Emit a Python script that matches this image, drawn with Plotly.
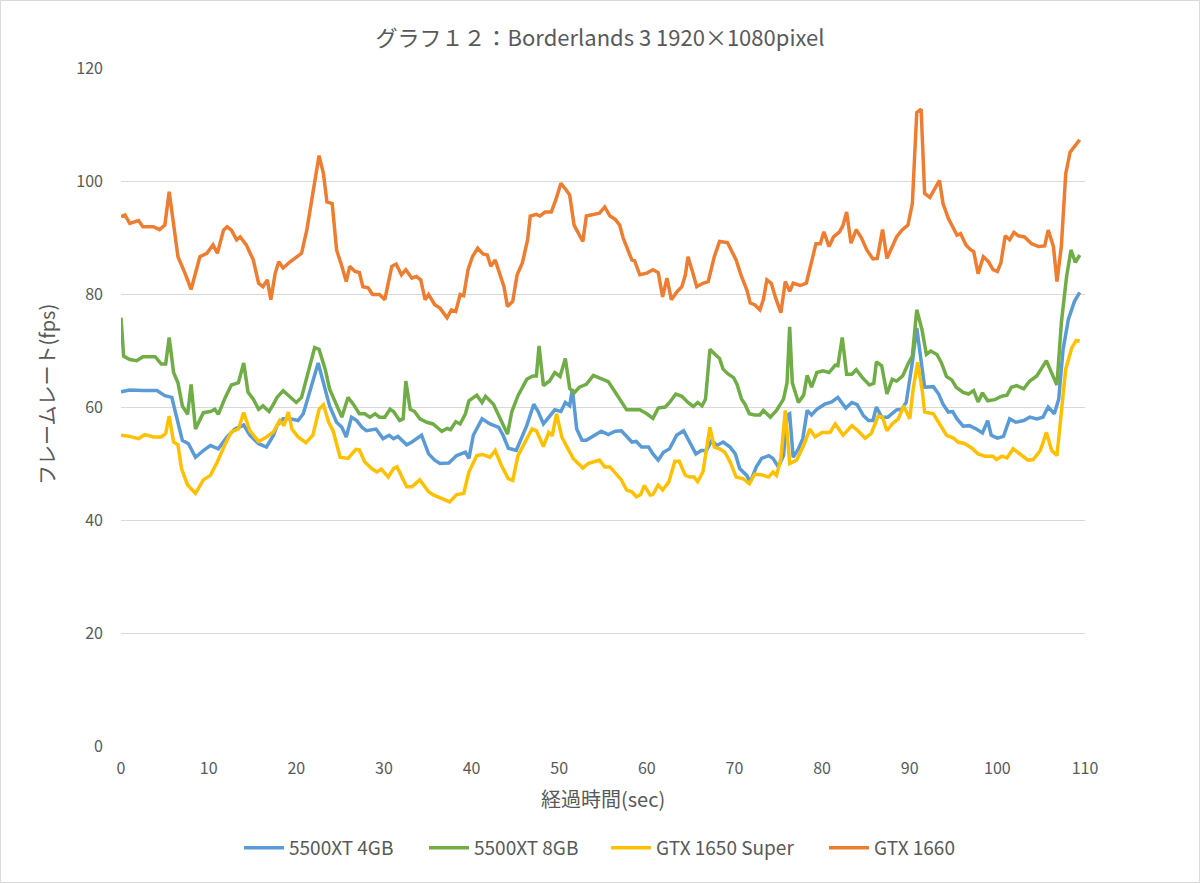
import plotly.graph_objects as go

# ---- data ----
t_4gb = [0, 1.0, 2.5, 4.1, 5.0, 5.8, 6.3, 7.0, 7.7, 8.5, 9.4, 10.2, 11.1, 12.1, 13.0, 14.0, 14.7, 15.7, 16.6, 17.4,
         17.8, 18.5, 19.3, 20.2, 20.8, 21.6, 22.5, 23.1, 23.8, 24.6, 25.2, 25.7, 26.3, 26.9, 27.5, 28.0, 29.1, 29.9,
         30.6, 31.1, 31.6, 32.6, 33.2, 34.3, 35.1, 35.8, 36.4, 37.4, 38.3, 39.3, 39.7, 40.2, 41.2, 42.1, 43.1, 43.6,
         44.2, 45.1, 46.3, 47.1, 47.6, 48.2, 48.8, 49.5, 50.2, 50.7, 51.2, 51.5, 52.0, 52.6, 53.1, 53.8, 54.1, 54.8,
         55.6, 56.4, 57.1, 57.7, 58.3, 58.8, 59.4, 60.2, 60.7, 61.3, 61.9, 62.6, 63.4, 64.2, 64.9, 65.6, 66.2, 66.8,
         67.4, 68.0, 68.7, 69.5, 70.1, 70.6, 71.4, 71.8, 72.5, 73.1, 73.9, 74.4, 75.0, 75.6, 76.0, 76.3, 76.7, 77.3,
         77.8, 78.3, 78.8, 79.4, 80.3, 81.1, 81.8, 82.7, 83.4, 84.0, 84.7, 85.3, 85.8, 86.2, 86.8, 87.5, 88.5, 89.1,
         89.6, 90.3, 90.8, 91.2, 91.7, 92.7, 93.3, 93.8, 94.4, 94.9, 95.4, 96.1, 96.8, 97.6, 98.3, 98.9, 99.3, 100.0,
         100.7, 101.4, 102.1, 103.0, 103.7, 104.5, 105.2, 105.8, 106.5, 107.0, 107.5, 108.1, 108.8, 109.4]
v_4gb = [62.7, 63.0, 62.9, 62.9, 62.0, 61.7, 58.5, 54.1, 53.5, 51.1, 52.3, 53.2, 52.6, 54.7, 56.1, 56.8, 55.0, 53.5, 52.9, 55.0,
         56.7, 57.9, 57.9, 57.6, 58.8, 62.9, 67.8, 64.3, 60.2, 57.3, 56.4, 54.7, 58.2, 57.6, 56.4, 55.8, 56.1, 54.4,
         55.0, 54.4, 54.8, 53.3, 53.8, 55.0, 51.7, 50.6, 50.0, 50.1, 51.4, 52.0, 50.9, 55.0, 57.9, 57.0, 56.4, 55.0,
         52.7, 52.3, 56.7, 60.5, 59.2, 57.0, 58.2, 59.5, 59.2, 60.8, 60.2, 63.2, 56.1, 54.1, 54.1, 54.7, 55.0, 55.7,
         55.1, 55.7, 55.8, 54.7, 53.8, 53.9, 52.9, 52.9, 51.7, 50.6, 52.0, 52.6, 55.0, 55.8, 53.8, 51.7, 52.3, 52.3,
         54.1, 53.2, 53.8, 52.9, 51.7, 49.1, 47.9, 46.7, 49.4, 50.9, 51.4, 50.9, 49.4, 51.4, 58.5, 58.8, 51.1, 52.6,
         54.4, 59.4, 58.6, 59.6, 60.5, 60.9, 61.7, 59.8, 60.8, 60.4, 58.5, 57.6, 57.6, 60.0, 58.2, 58.2, 59.5, 59.6,
         60.8, 67.9, 74.0, 69.0, 63.5, 63.6, 62.3, 60.5, 59.1, 59.2, 57.9, 56.6, 56.7, 56.1, 55.4, 57.6, 55.0, 54.5,
         54.8, 57.9, 57.3, 57.6, 58.2, 57.9, 58.2, 60.0, 58.8, 61.4, 70.2, 75.5, 78.7, 80.3]

t_8gb = [0, 0.3, 1.0, 1.8, 2.5, 3.9, 4.6, 5.1, 5.5, 6.0, 6.5, 7.0, 7.6, 8.0, 8.5, 9.4, 10.2, 10.7, 11.1, 11.9, 12.6,
         13.4, 14.0, 14.5, 15.1, 15.7, 16.2, 16.9, 17.4, 17.8, 18.5, 19.3, 20.0, 20.6, 21.4, 22.1, 22.6, 23.3, 23.8,
         24.6, 25.2, 25.9, 26.5, 27.2, 27.8, 28.4, 29.0, 29.5, 30.1, 30.7, 31.1, 31.8, 32.2, 32.5, 33.0, 33.5, 34.1,
         34.9, 35.6, 36.0, 36.6, 37.2, 37.6, 38.2, 38.7, 39.3, 39.7, 40.6, 41.2, 41.6, 42.5, 43.2, 44.1, 44.6, 45.3,
         46.3, 47.0, 47.4, 47.7, 48.2, 48.9, 49.5, 50.1, 50.7, 51.2, 51.7, 52.3, 53.1, 53.9, 54.5, 55.6, 56.4, 57.1,
         57.7, 59.2, 60.0, 60.7, 61.3, 62.1, 62.6, 63.3, 64.0, 64.7, 65.3, 65.8, 66.3, 66.7, 67.2, 67.8, 68.3, 68.7,
         69.3, 69.9, 70.3, 70.8, 71.2, 71.7, 72.3, 72.9, 73.3, 74.1, 74.8, 75.6, 76.0, 76.3, 76.6, 77.3, 77.9, 78.3,
         78.8, 79.4, 80.1, 80.8, 81.5, 81.8, 82.3, 82.8, 83.4, 83.9, 84.6, 85.4, 85.9, 86.2, 86.8, 87.4, 88.0, 88.5,
         89.2, 89.8, 90.3, 90.8, 91.4, 91.9, 92.4, 93.1, 93.6, 94.2, 94.8, 95.3, 96.1, 96.7, 97.3, 97.8, 98.3, 98.9,
         99.7, 100.5, 101.1, 101.6, 102.2, 103.0, 103.7, 104.5, 105.0, 105.6, 106.2, 106.8, 107.3, 107.9, 108.4,
         108.9, 109.4]
v_8gb = [75.8, 69.0, 68.4, 68.2, 68.9, 68.9, 67.6, 67.6, 72.3, 66.1, 64.3, 60.2, 58.7, 64.0, 56.1, 59.0, 59.2, 59.6, 58.7, 61.7, 63.9,
         64.3, 67.8, 62.6, 61.4, 59.6, 60.2, 59.2, 60.5, 61.7, 62.9, 61.7, 60.8, 61.7, 66.1, 70.5, 70.2, 66.7, 63.2,
         60.2, 58.2, 61.7, 60.5, 58.8, 58.8, 58.2, 58.8, 58.2, 58.2, 59.6, 59.2, 57.6, 57.9, 64.6, 59.6, 59.2, 57.9,
         57.3, 57.0, 56.5, 55.7, 56.2, 56.0, 57.4, 57.0, 58.8, 61.1, 62.1, 60.8, 61.9, 60.5, 58.2, 55.2, 59.2, 62.0,
         64.9, 65.5, 65.5, 70.8, 63.8, 64.6, 66.1, 65.4, 68.6, 63.3, 62.5, 63.5, 64.0, 65.6, 65.2, 64.5, 62.6, 60.8,
         59.5, 59.5, 58.8, 58.0, 59.8, 60.0, 60.8, 62.3, 61.9, 60.8, 60.1, 60.8, 60.2, 61.4, 70.2, 69.3, 68.6, 66.7,
         65.8, 65.2, 64.0, 61.4, 60.5, 58.8, 58.6, 58.6, 59.4, 58.2, 59.4, 61.4, 64.3, 74.2, 64.3, 60.8, 62.1, 65.6,
         63.5, 66.1, 66.4, 66.1, 67.4, 67.3, 72.3, 65.8, 65.8, 66.6, 65.2, 63.9, 64.2, 68.0, 67.3, 62.3, 64.9, 64.6,
         65.5, 67.6, 69.0, 77.2, 73.7, 69.3, 69.9, 69.3, 67.9, 65.4, 64.8, 63.5, 62.6, 62.3, 62.9, 60.9, 62.5, 61.1,
         61.3, 61.9, 62.1, 63.5, 63.8, 63.2, 64.6, 65.5, 66.7, 68.2, 66.0, 63.9, 74.9, 83.1, 87.8,
         85.6, 86.9]

t_1650s = [0, 1.0, 2.0, 2.7, 3.7, 4.6, 5.1, 5.5, 6.0, 6.5, 6.9, 7.6, 8.5, 9.4, 10.2, 11.0, 11.9, 12.6, 13.4, 14.0,
           14.7, 15.7, 16.6, 17.4, 18.1, 18.6, 19.1, 19.5, 20.2, 21.1, 21.9, 22.6, 23.1, 23.7, 24.2, 25.0, 25.9, 26.8,
           27.2, 27.8, 28.6, 29.2, 29.7, 30.5, 31.1, 31.5, 32.6, 33.2, 34.1, 35.1, 35.7, 36.4, 37.5, 38.3, 39.1, 39.7,
           40.6, 41.3, 42.1, 42.7, 43.4, 44.2, 44.7, 45.3, 46.1, 46.9, 47.4, 48.2, 48.8, 49.2, 49.7, 50.3, 50.9, 51.6,
           52.7, 53.3, 54.6, 55.2, 55.8, 56.5, 57.1, 57.7, 58.3, 58.8, 59.3, 59.7, 60.4, 60.7, 61.3, 61.8, 62.5, 63.2,
           63.7, 64.4, 64.9, 65.4, 65.8, 66.4, 66.8, 67.2, 67.7, 68.3, 68.9, 69.5, 70.2, 71.0, 71.7, 72.3, 73.1, 73.9,
           74.4, 74.8, 75.3, 75.8, 76.3, 77.1, 77.9, 78.6, 79.2, 80.0, 80.9, 81.5, 82.4, 83.4, 84.1, 84.9, 85.6, 86.4,
           86.9, 87.4, 88.0, 88.7, 89.3, 90.0, 90.4, 90.9, 91.4, 91.7, 92.7, 93.4, 94.2, 95.0, 95.5, 96.3, 97.1, 97.8,
           98.6, 99.5, 99.9, 100.5, 101.1, 101.8, 102.6, 103.5, 104.1, 104.9, 105.6, 106.2, 106.8, 107.3, 107.8,
           108.5, 109.0, 109.4]
v_1650s = [55.0, 54.8, 54.4, 55.1, 54.7, 54.7, 55.3, 58.4, 53.8, 53.3, 49.1, 46.2, 44.7, 47.1, 47.9, 50.3, 53.5, 55.6, 56.1, 59.0,
           55.8, 53.9, 54.7, 55.6, 57.6, 56.7, 59.1, 56.1, 54.7, 53.7, 55.0, 59.6, 60.4, 57.3, 55.8, 51.1, 50.9, 52.5,
           52.4, 50.3, 49.1, 48.5, 49.0, 47.6, 49.1, 49.4, 45.9, 45.9, 47.1, 45.0, 44.4, 43.9, 43.2, 44.5, 44.7, 48.5,
           51.4, 51.6, 51.1, 52.3, 49.7, 47.3, 47.0, 51.4, 53.8, 56.1, 55.8, 53.0, 55.5, 54.9, 58.8, 54.7, 52.9, 50.9,
           49.2, 50.0, 50.6, 49.4, 49.4, 48.2, 47.1, 45.3, 45.0, 44.1, 44.5, 46.1, 44.4, 44.5, 46.2, 45.3, 46.7, 50.4,
           50.4, 47.9, 47.6, 47.6, 46.8, 48.5, 52.3, 56.4, 52.9, 52.6, 52.0, 50.3, 47.6, 47.3, 46.4, 48.1, 48.0, 47.6,
           48.5, 47.9, 50.9, 59.4, 50.0, 50.6, 53.2, 56.1, 54.7, 55.5, 55.5, 57.0, 55.0, 56.7, 55.8, 54.5, 55.3, 58.4,
           58.2, 55.8, 57.0, 57.9, 60.2, 57.9, 63.2, 67.9, 63.2, 59.1, 58.8, 57.0, 55.0, 54.5, 53.8, 53.5, 52.7, 51.7,
           51.3, 51.3, 50.7, 51.3, 51.0, 52.6, 51.6, 50.6, 50.7, 52.3, 55.5, 52.3, 51.4, 59.6, 66.7,
           70.5, 71.8, 71.7]

t_1660 = [0, 0.45, 1.0, 2.0, 2.5, 3.7, 4.4, 5.0, 5.5, 6.0, 6.5, 7.3, 8.0, 9.0, 9.8, 10.5, 11.0, 11.7, 12.1, 12.6,
          13.2, 13.6, 14.3, 15.1, 15.7, 16.2, 16.7, 17.1, 17.6, 18.0, 18.5, 19.3, 20.6, 21.2, 21.9, 22.6, 23.1, 23.5,
          24.1, 24.6, 25.2, 25.7, 26.1, 26.7, 27.2, 27.6, 28.2, 28.7, 29.5, 30.1, 30.9, 31.4, 32.0, 32.5, 33.2, 33.7,
          34.2, 34.7, 35.1, 35.8, 36.4, 37.2, 37.7, 38.2, 38.7, 39.1, 39.6, 40.1, 40.7, 41.3, 41.8, 42.2, 42.7, 43.2,
          43.7, 44.1, 44.7, 45.2, 45.8, 46.4, 46.7, 47.4, 47.8, 48.4, 49.1, 49.6, 50.2, 50.8, 51.2, 51.7, 52.2, 52.7,
          53.1, 53.9, 54.6, 55.2, 55.8, 56.4, 56.9, 57.3, 57.7, 58.3, 58.6, 59.2, 60.0, 60.7, 61.3, 61.8, 62.3, 62.8,
          63.5, 64.0, 64.4, 64.7, 65.2, 65.7, 66.4, 67.0, 67.7, 68.3, 69.2, 69.7, 70.2, 70.8, 71.4, 71.8, 72.3, 72.9,
          73.3, 73.7, 74.2, 74.7, 75.3, 75.8, 76.3, 76.7, 77.5, 78.2, 78.8, 79.3, 79.8, 80.2, 80.8, 81.3, 82.0, 82.4,
          82.8, 83.3, 83.9, 84.5, 85.1, 85.8, 86.3, 86.9, 87.4, 88.0, 88.5, 89.1, 89.8, 90.3, 90.8, 91.3, 91.7, 92.3,
          92.9, 93.4, 93.8, 94.4, 94.9, 95.4, 95.8, 96.4, 96.9, 97.3, 97.8, 98.4, 99.0, 99.5, 100.0, 100.4, 100.9,
          101.4, 101.9, 102.4, 103.1, 103.9, 104.7, 105.4, 105.8, 106.4, 106.8, 107.3, 107.8, 108.3, 108.9, 109.4]
v_1660 = [93.7, 94.0, 92.5, 93.0, 91.9, 91.9, 91.4, 92.2, 98.1, 91.9, 86.6, 83.7, 80.8, 86.6, 87.2, 88.7, 87.2, 91.3, 91.9, 91.3,
          89.6, 90.1, 88.7, 86.0, 81.9, 81.3, 82.5, 79.0, 83.7, 85.7, 84.6, 85.7, 87.2, 91.3, 98.4, 104.5, 101.3, 96.3,
          96.0, 87.8, 84.9, 82.2, 84.9, 84.0, 83.8, 81.3, 81.1, 79.9, 79.9, 79.0, 84.9, 85.3, 83.4, 84.3, 82.8, 83.1,
          82.5, 79.0, 79.9, 78.1, 77.5, 75.8, 77.2, 76.9, 79.9, 79.7, 84.3, 86.6, 88.1, 87.1, 86.9, 84.9, 86.0, 83.4,
          81.3, 77.8, 78.7, 83.4, 85.5, 89.6, 93.8, 94.1, 93.8, 94.5, 94.5, 96.6, 99.6, 98.4, 97.5, 92.2, 90.7, 89.3,
          93.8, 94.0, 94.3, 95.4, 93.8, 93.2, 92.2, 89.9, 88.4, 86.0, 85.9, 83.4, 83.7, 84.3, 83.8, 79.5, 82.8, 79.0,
          80.5, 81.3, 83.4, 86.6, 84.0, 81.3, 81.9, 82.2, 86.6, 89.3, 89.1, 87.5, 86.0, 83.1, 80.8, 78.4, 78.1, 77.2,
          79.0, 82.5, 81.9, 79.3, 76.7, 82.2, 80.5, 81.9, 81.5, 81.9, 85.5, 88.9, 88.9, 91.0, 88.4, 90.1, 91.0, 92.2,
          94.5, 89.0, 91.4, 89.9, 87.8, 86.2, 86.3, 91.4, 86.3, 88.4, 90.1, 91.3, 92.2, 96.0, 112.1, 112.7, 97.8, 97.1,
          98.7, 100.1, 96.0, 93.4, 91.9, 90.4, 90.7, 88.7, 87.9, 87.5, 83.6, 86.6, 85.7, 84.3, 84.0, 85.5, 90.3,
          89.6, 90.9, 90.3, 90.1, 88.9, 88.4, 88.5, 91.3, 88.4, 82.2, 88.4, 101.3, 105.1, 106.3, 107.3]

series_names = ["5500XT 4GB", "5500XT 8GB", "GTX 1650 Super", "GTX 1660"]
series_colors = ["#5B9BD5", "#70AD47", "#FFC000", "#ED7D31"]
x_ticks = [0, 10, 20, 30, 40, 50, 60, 70, 80, 90, 100, 110]
y_ticks = [0, 20, 40, 60, 80, 100, 120]

title_text = "グラフ１２：Borderlands 3 1920×1080pixel"
x_title = "経過時間(sec)"
y_title = "フレームレート(fps)"

FONT = "Noto Sans CJK JP, Noto Sans, sans-serif"
GRAY = "#595959"

# legend entry left edges in pixels (layout only)
legend_left_px = [240, 425, 607, 825]
legend_ids = ["legend", "legend2", "legend3", "legend4"]

fig = go.Figure()
for name, color, tx, vy, lg in zip(series_names, series_colors,
                                   [t_4gb, t_8gb, t_1650s, t_1660],
                                   [v_4gb, v_8gb, v_1650s, v_1660], legend_ids):
    fig.add_trace(go.Scatter(x=tx, y=vy, mode="lines", name=name, legend=lg,
                             line=dict(color=color, width=3.5)))

legend_layout = {}
for lg, px in zip(legend_ids, legend_left_px):
    legend_layout[lg] = dict(orientation="h", x=(px - 121 - 1) / 964, xanchor="left",
                             y=(746 - 848) / 678, yanchor="middle",
                             font=dict(size=19, color=GRAY, family=FONT), itemwidth=40,
                             bgcolor="rgba(0,0,0,0)", borderwidth=0)

fig.update_layout(
    width=1200, height=883,
    margin=dict(l=121, r=115, t=68, b=137),
    paper_bgcolor="white", plot_bgcolor="white",
    font=dict(family=FONT, color=GRAY, size=16),
    title=dict(text=title_text, x=0.5, xanchor="center", y=1 - 38 / 883, yanchor="middle",
               font=dict(size=22, color=GRAY, family=FONT)),
    showlegend=True,
    xaxis=dict(range=[0, 110], tickvals=x_ticks, showgrid=False, zeroline=False, showline=False,
               ticks="", tickfont=dict(size=16, color=GRAY), ticklabelstandoff=11, fixedrange=True),
    yaxis=dict(range=[0, 120], tickvals=y_ticks, showgrid=True, gridcolor="#D9D9D9", gridwidth=1,
               zeroline=False, showline=False, ticks="", tickfont=dict(size=16, color=GRAY),
               ticklabelstandoff=17, fixedrange=True),
    annotations=[
        dict(text=x_title, xref="paper", yref="paper", x=0.5, y=(746 - 798) / 678, xanchor="center",
             yanchor="middle", showarrow=False, font=dict(size=20, color=GRAY, family=FONT)),
        dict(text=y_title, xref="paper", yref="paper", x=(46 - 121) / 964, y=(746 - 395) / 678, xanchor="center",
             yanchor="middle", textangle=-90, showarrow=False, font=dict(size=20, color=GRAY, family=FONT)),
    ],
    shapes=[
        dict(type="rect", xref="paper", yref="paper",
             x0=(0.5 - 121) / 964, x1=(1199.5 - 121) / 964,
             y0=(746 - 882.5) / 678, y1=(746 - 0.5) / 678,
             line=dict(color="#D9D9D9", width=1), fillcolor="rgba(0,0,0,0)", layer="below"),
    ],
    **legend_layout,
)

fig.write_html("out.html", config={"displayModeBar": False},
               post_script="document.body.style.margin='0';document.body.style.overflow='hidden';")
